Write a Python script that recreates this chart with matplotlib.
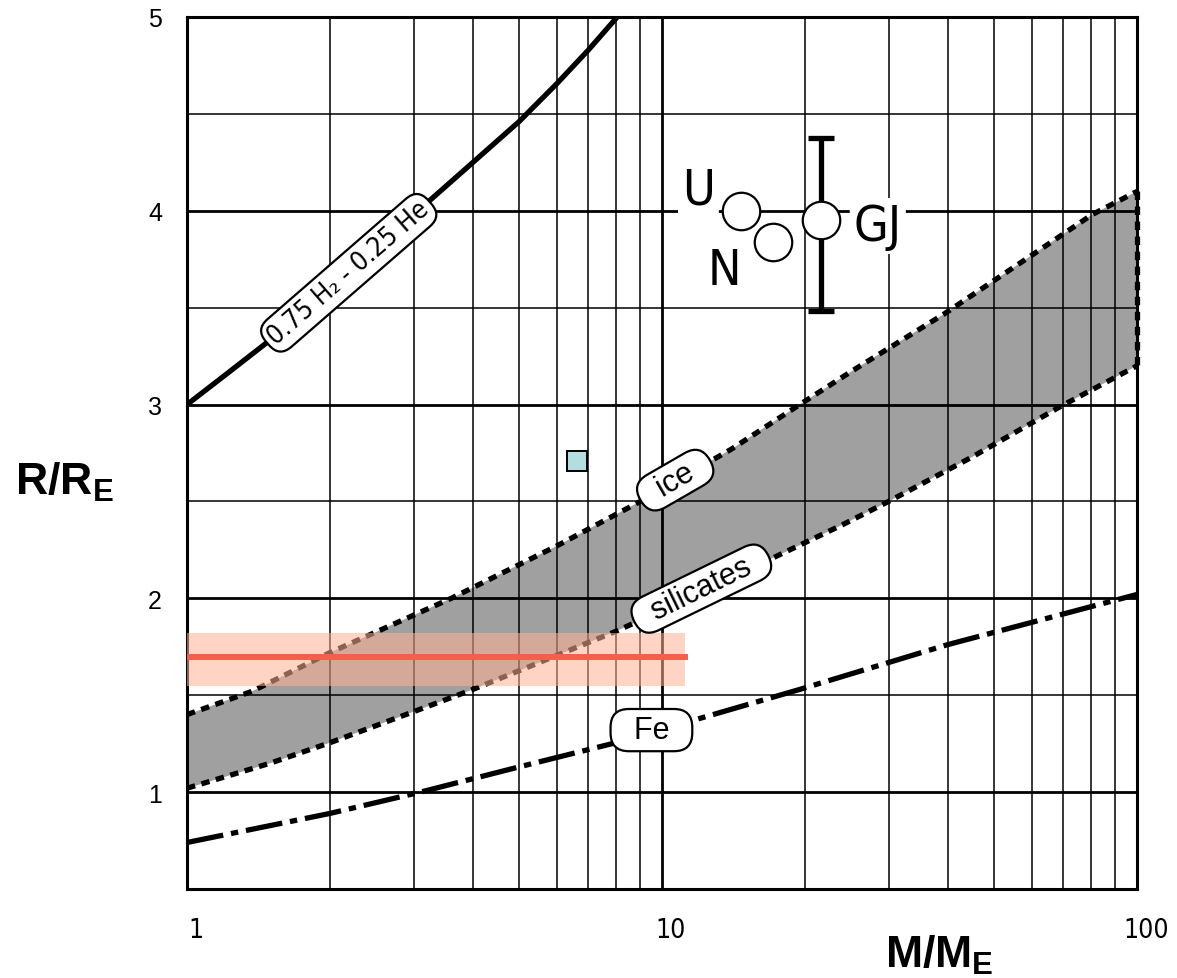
import matplotlib
matplotlib.use("Agg")
import matplotlib.pyplot as plt
import matplotlib.transforms as mtransforms
from matplotlib import font_manager
from matplotlib.font_manager import FontProperties
from matplotlib.ticker import FixedLocator, NullFormatter

SANS = "Liberation Sans"


def find_narrow():
    # a condensed face looks closer to the original lettering
    names = {f.name for f in font_manager.fontManager.ttflist}
    if "Liberation Sans Narrow" in names:
        return ["Liberation Sans Narrow", "DejaVu Sans"], "normal", True
    try:
        p = font_manager.findfont(FontProperties(family="DejaVu Sans", stretch="condensed"),
                                  fallback_to_default=False)
        if "Condensed" in p:
            return ["DejaVu Sans"], "condensed", True
    except Exception:
        pass
    return [SANS, "DejaVu Sans"], "normal", False


NARROW, STRETCH, HAS_NARROW = find_narrow()

plt.rcParams["mathtext.fontset"] = "custom"
plt.rcParams["mathtext.bf"] = SANS + ":bold"
plt.rcParams["mathtext.rm"] = SANS

# ------------------------------------
# data
# ------------------------------------
h2_m = [1, 1.2, 1.5, 2, 3, 4, 5, 6, 7, 8.05]
h2_r = [3.0, 3.15, 3.335, 3.6, 3.98, 4.25, 4.46, 4.655, 4.83, 5.0]

ice_m = [1, 1.37, 2, 3.6, 6, 9, 14, 19.5, 25, 39.4, 60, 80.4, 100]
ice_r = [1.40, 1.52, 1.72, 2.0, 2.27, 2.5, 2.77, 3.0, 3.17, 3.47, 3.77, 3.98, 4.1]

sil_m = [1, 1.5, 2, 3, 4, 6, 8, 12, 17, 24, 30, 45, 69, 100]
sil_r = [1.02, 1.15, 1.255, 1.415, 1.53, 1.705, 1.83, 2.025, 2.205, 2.38, 2.5, 2.73, 2.99, 3.2]

fe_m = [1, 2, 3.1, 5, 7.85, 12, 19.5, 39.8, 100]
fe_r = [0.74, 0.89, 1.0, 1.13, 1.25, 1.38, 1.53, 1.76, 2.02]

planet_names = ["U", "N", "GJ"]
planet_m = [14.7, 17.1, 21.6]
planet_r = [4.0, 3.84, 3.95]
gj_err_lo = 0.465
gj_err_hi = 0.426

square_m = 6.62
square_r = 2.71

band_m = [1, 11.2]
band_r = 1.695
band_lo = 1.55
band_hi = 1.82

x_ticks = [1, 10, 100]
x_labels = ["1", "10", "100"]
y_ticks = [1, 2, 3, 4, 5]
y_labels = ["1", "2", "3", "4", "5"]

# ------------------------------------
# figure
# ------------------------------------
W, H = 1177, 979
fig = plt.figure(figsize=(W / 100, H / 100), dpi=100)
ax = fig.add_axes([187 / W, 1 - 890 / H, 950 / W, 872 / H])
ax.set_xscale("log")
ax.set_xlim(1, 100)
ax.set_ylim(0.5, 5.0)

ax.set_xticks(x_ticks)
ax.set_xticklabels(x_labels)
ax.xaxis.set_minor_locator(FixedLocator([2, 3, 4, 5, 6, 7, 8, 9,
                                         20, 30, 40, 50, 60, 70, 80, 90]))
ax.xaxis.set_minor_formatter(NullFormatter())
ax.set_yticks(y_ticks)
ax.set_yticklabels(y_labels)
ax.yaxis.set_minor_locator(FixedLocator([1.5, 2.5, 3.5, 4.5]))
ax.yaxis.set_minor_formatter(NullFormatter())
ax.tick_params(which="both", length=0)
ax.tick_params(axis="x", pad=20)
ax.tick_params(axis="y", pad=18)
xfp = FontProperties(family=NARROW, stretch=STRETCH, size=19)
shift = mtransforms.ScaledTranslation(9 / 100, 0, fig.dpi_scale_trans)
for lbl in ax.get_xticklabels():
    lbl.set_fontproperties(xfp)
    lbl.set_transform(lbl.get_transform() + shift)
for lbl in ax.get_yticklabels():
    lbl.set_fontproperties(FontProperties(family=SANS, size=18))

ax.grid(which="major", color="black", lw=2.0)
ax.grid(which="minor", color="black", lw=1.1)
ax.set_axisbelow("line")
for sp in ax.spines.values():
    sp.set_linewidth(2.2)

# band between ice and silicates
ax.fill(ice_m + sil_m[::-1], ice_r + sil_r[::-1], color="#a0a0a0", lw=0, zorder=1)

dots = (0, (1.6, 1.25))
ax.plot(ice_m, ice_r, color="black", lw=3.8, ls=dots, zorder=3)
ax.plot(sil_m, sil_r, color="black", lw=3.8, ls=dots, zorder=3)
ax.plot([ice_m[-1], sil_m[-1]], [ice_r[-1], sil_r[-1]], color="black", lw=3.8,
        ls=dots, zorder=3, clip_on=False)

ax.plot(h2_m, h2_r, color="black", lw=3.8, zorder=3)
ax.plot(fe_m, fe_r, color="black", lw=3.8, ls=(0, (7, 1.5, 1.4, 1.5)), zorder=3)

# measured radius band
ax.fill_between(band_m, band_lo, band_hi, color="#ffb296", alpha=0.55, lw=0, zorder=4)
ax.plot(band_m, [band_r, band_r], color="#f2604a", lw=4.3, zorder=5)

ax.plot(square_m, square_r, "s", ms=14, mfc="#b3dde0", mec="black", mew=1.4, zorder=5)

# planets
ax.errorbar(planet_m[2], planet_r[2], yerr=[[gj_err_lo], [gj_err_hi]], fmt="none",
            ecolor="black", elinewidth=3.8, capsize=9.5, capthick=3.8, zorder=5)
ax.plot(planet_m, planet_r, "o", ms=27, mfc="white", mec="black", mew=1.6,
        ls="none", zorder=6)

planet_fp = FontProperties(family=NARROW, stretch=STRETCH, size=36 if HAS_NARROW else 32)
offsets = [(-31, 15), (-35, -20), (41, -4)]
for name, m, r, off in zip(planet_names, planet_m, planet_r, offsets):
    ax.annotate(name, (m, r), xytext=off, textcoords="offset points",
                ha="center", va="center", fontproperties=planet_fp,
                bbox=dict(boxstyle="round,pad=0.08", fc="white", ec="none"),
                zorder=7)


def pill(x, y, s, rot, fp, pad):
    ax.text(x, y, s, rotation=rot, rotation_mode="anchor", ha="center",
            va="center", fontproperties=fp,
            bbox=dict(boxstyle="round,pad=%.2f,rounding_size=0.6" % pad,
                      fc="white", ec="black", lw=1.6),
            zorder=8)


h2_fp = FontProperties(family=NARROW, stretch=STRETCH, size=19)
lab_fp = FontProperties(family=[SANS, "DejaVu Sans"], size=22)
pill(2.19, 3.68, "0.75 H\u2082 - 0.25 He", 41, h2_fp, 0.2)
pill(10.66, 2.61, "  ice  ", 30, lab_fp, 0.12)
pill(12.1, 2.05, "  silicates  ", 26, lab_fp, 0.12)
pill(9.5, 1.32, "  Fe  ", 0, lab_fp, 0.2)

fig.text(15 / W, 1 - 495 / H, r"$\mathbf{R/R_E}$", fontsize=32, ha="left",
         va="baseline")
fig.text(885 / W, 1 - 968 / H, r"$\mathbf{M/M_E}$", fontsize=32, ha="left",
         va="baseline")

fig.savefig("out.png", dpi=100)
